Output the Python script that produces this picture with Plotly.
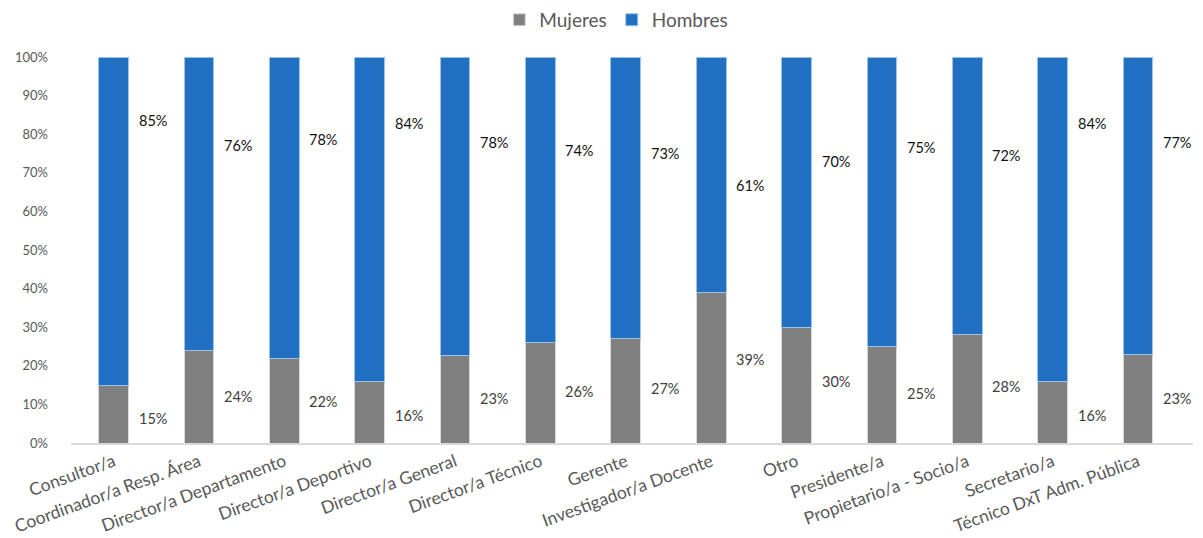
import plotly.graph_objects as go

categories = ["Consultor/a", "Coordinador/a Resp. Área", "Director/a Departamento",
              "Director/a Deportivo", "Director/a General", "Director/a Técnico",
              "Gerente", "Investigador/a Docente", "Otro", "Presidente/a",
              "Propietario/a - Socio/a", "Secretario/a", "Técnico DxT Adm. Pública"]
mujeres = [15, 24, 22, 16, 23, 26, 27, 39, 30, 25, 28, 16, 23]
hombres = [85, 76, 78, 84, 78, 74, 73, 61, 70, 75, 72, 84, 77]

GRAY = "#808080"
BLUE = "#2170C4"
FONT = "Lato"

fig = go.Figure()
fig.add_trace(go.Bar(x=categories, y=[m / (m + h) * 100 for m, h in zip(mujeres, hombres)],
                     name="Mujeres", marker=dict(color=GRAY, line=dict(color="#d9d9d9", width=1))))
fig.add_trace(go.Bar(x=categories, y=[h / (m + h) * 100 for m, h in zip(mujeres, hombres)],
                     name="Hombres", marker=dict(color=BLUE, line=dict(color="#9dc3e6", width=1))))

annotations = []
for c, m, h in zip(categories, mujeres, hombres):
    annotations.append(dict(x=c, y=0.63 * m - 3, text=f"{m}%", showarrow=False, xshift=39,
                            font=dict(family=FONT, size=14.5, color="#404040")))
    annotations.append(dict(x=c, y=100 - (0.7 * m + 6), text=f"{h}%", showarrow=False, xshift=39,
                            font=dict(family=FONT, size=14.5, color="#111111")))

fig.update_layout(
    width=1203, height=538,
    barmode="stack", bargap=0.652,
    plot_bgcolor="white", paper_bgcolor="white",
    margin=dict(l=71, r=10, t=57, b=95),
    font=dict(family=FONT, color="#595959"),
    legend=dict(orientation="h", x=0.486, xanchor="center", y=0.963, yanchor="middle",
                yref="container",
                font=dict(family=FONT, size=19, color="#595959"),
                itemwidth=30, traceorder="normal"),
    annotations=annotations,
    xaxis=dict(tickangle=-20, tickfont=dict(family=FONT, size=17.5, color="#595959"),
               showline=True, linecolor="#d9d9d9", linewidth=2, ticks="", showgrid=False,
               automargin=False),
    yaxis=dict(range=[0, 100], tickvals=list(range(0, 101, 10)),
               ticktext=[f"{v}%" for v in range(0, 101, 10)],
               tickfont=dict(family=FONT, size=13, color="#595959"),
               showgrid=False, zeroline=False, ticklabelstandoff=22, automargin=False),
)

fig.write_html("out.html", config={"displayModeBar": False},
               post_script="document.body.style.margin='0px';")
